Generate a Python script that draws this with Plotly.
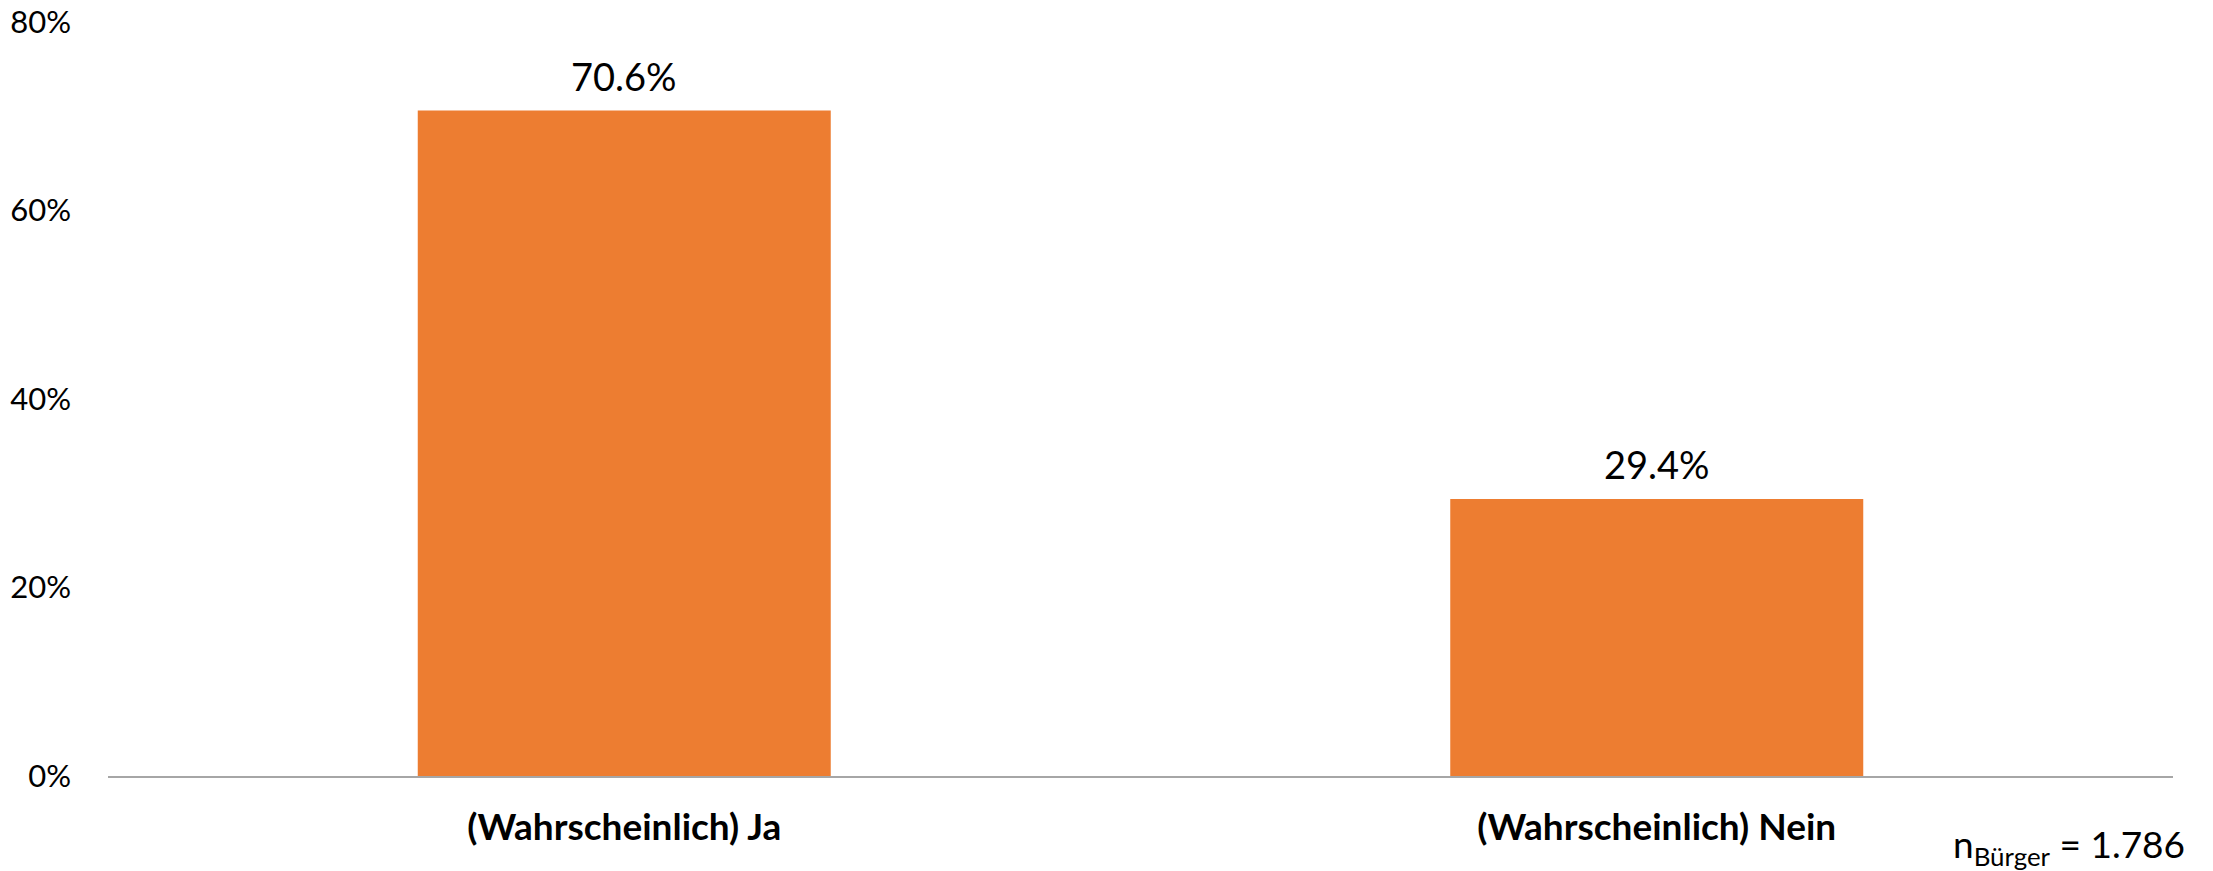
import plotly.graph_objects as go

categories = ['(Wahrscheinlich) Ja', '(Wahrscheinlich) Nein']
shares = [70.6, 29.4]
y_ticks = [0, 20, 40, 60, 80]
n_total = '1.786'

fig = go.Figure([
	go.Bar(
		x=categories,
		y=shares,
		marker=dict(color='#ED7D31', line=dict(width=0)),
		hoverinfo='skip'
	)
])

for cat, val in zip(categories, shares):
	fig.add_annotation(
		x=cat, y=val,
		text=f'{val:.1f}%',
		showarrow=False,
		yanchor='bottom',
		yshift=10,
		font=dict(family='Lato', size=38, color='#000000')
	)

fig.add_annotation(
	xref='paper', yref='paper',
	x=1.007, y=-0.094,
	xanchor='right', yanchor='middle',
	text=f'n<sub>Bürger</sub> = {n_total}',
	showarrow=False,
	font=dict(family='Lato', size=37, color='#000000')
)

# the page adds an 8px body margin, so margins are shifted to compensate
fig.update_layout(
	width=2213,
	height=871,
	margin=dict(l=100, r=48, t=14, b=103),
	paper_bgcolor='white',
	plot_bgcolor='white',
	bargap=0.6,
	showlegend=False,
	font=dict(family='Lato', color='#000000'),
	xaxis=dict(
		automargin=False,
		showline=True,
		linecolor='#A6A6A6',
		linewidth=2,
		showgrid=False,
		zeroline=False,
		ticks='',
		ticklabelstandoff=18,
		tickfont=dict(family='Lato', size=37, color='#000000', weight='bold')
	),
	yaxis=dict(
		automargin=False,
		range=[0, 80],
		tickvals=y_ticks,
		ticktext=[f'{v}%' for v in y_ticks],
		ticklabeloverflow='allow',
		showgrid=False,
		zeroline=False,
		showline=False,
		ticks='',
		ticklabelstandoff=36,
		tickfont=dict(family='Lato', size=31, color='#000000')
	)
)

fig.write_html('out.html')
